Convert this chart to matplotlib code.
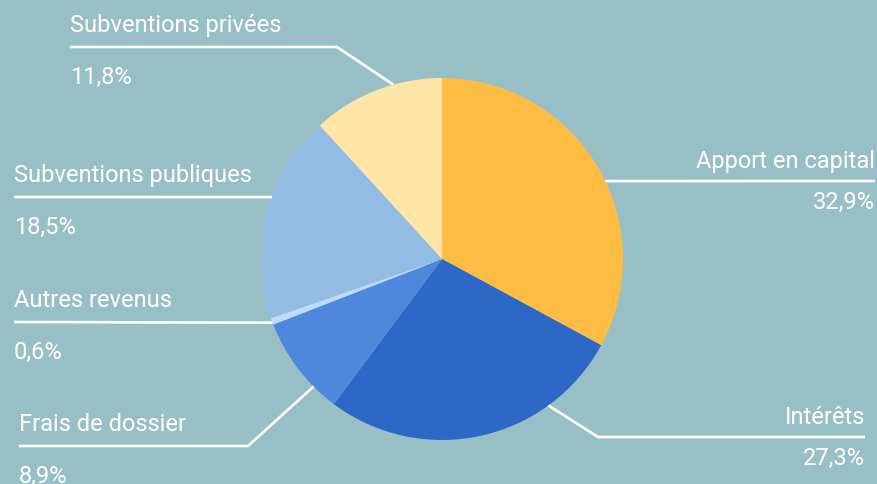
import numpy as np
import matplotlib.pyplot as plt

labels = ["Apport en capital", "Intérêts", "Frais de dossier", "Autres revenus",
          "Subventions publiques", "Subventions privées"]
values = [32.9, 27.3, 8.9, 0.6, 18.5, 11.8]
pct_text = ["32,9%", "27,3%", "8,9%", "0,6%", "18,5%", "11,8%"]
colors = ["#FFBC42", "#2D68C6", "#4F87DD", "#BBDDFB", "#93BCE5", "#FFE5A8"]

BG = "#99BFC6"
W, H = 877, 484
cx, cy, r = 442, 259, 181

plt.rcParams['font.family'] = ['Roboto', 'DejaVu Sans']

fig = plt.figure(figsize=(W / 100, H / 100), dpi=100, facecolor=BG)
ax = fig.add_axes([0, 0, 1, 1])
ax.set_facecolor(BG)

def Y(y):
    return H - y

ax.pie(values, colors=colors, startangle=90, counterclock=False,
       center=(cx, Y(cy)), radius=r, frame=True,
       wedgeprops=dict(linewidth=0))
ax.set_xlim(0, W)
ax.set_ylim(0, H)
ax.set_aspect('equal')
ax.axis('off')

# connector layout: anchor angle on the rim, elbow x, end x, line y, side
layout = [
    (25.5, None, 875, 181, 'right'),
    (-54.0, 598, 865, 437, 'right'),
    (-135.2, 248, 19, 446, 'left'),
    (-159.4, None, 14, 322, 'left'),
    (160.0, None, 14, 197, 'left'),
    (105.6, 337, 70, 47, 'left'),
]

for lab, pct, (ang, ex, endx, ly, side) in zip(labels, pct_text, layout):
    a = np.deg2rad(ang)
    px = cx + r * np.cos(a)
    py = cy - r * np.sin(a)
    xs, ys = [px], [py]
    if ex is not None:
        xs.append(ex)
        ys.append(ly)
    xs.append(endx)
    ys.append(ly)
    ax.plot(xs, [Y(v) for v in ys], color='white', lw=1.9, solid_capstyle='butt')
    if side == 'right':
        ax.text(endx, Y(ly - 8), lab, color='white', fontsize=17, ha='right', va='bottom')
        ax.text(endx, Y(ly + 10), pct, color='white', fontsize=17, ha='right', va='top')
    else:
        ax.text(endx, Y(ly - 10), lab, color='white', fontsize=17, ha='left', va='bottom')
        ax.text(endx, Y(ly + 19), pct, color='white', fontsize=17, ha='left', va='top')

fig.savefig("out.png", dpi=100, facecolor=BG)
